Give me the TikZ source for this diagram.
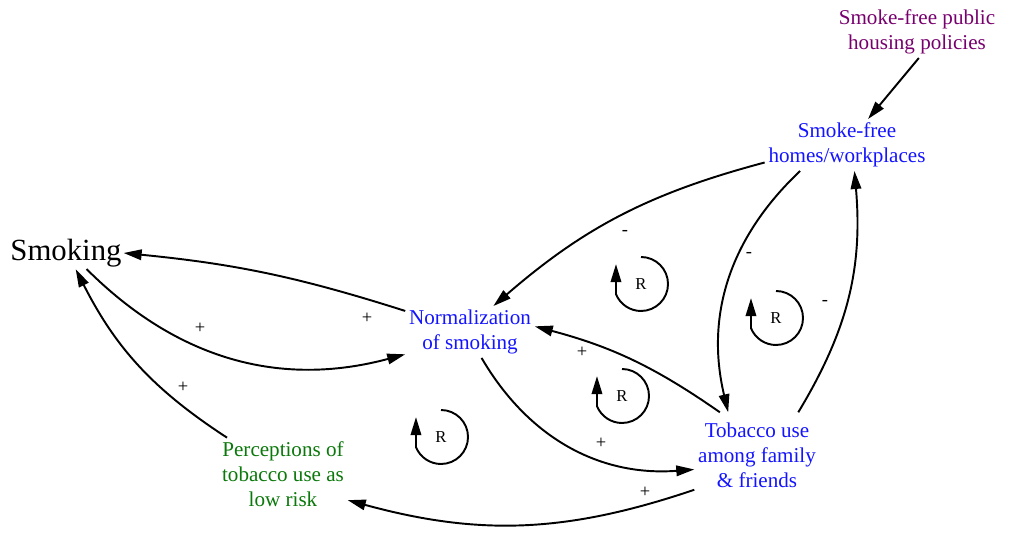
\documentclass[tikz,border=0pt]{standalone}
\usepackage{fontspec}
\setmainfont{Liberation Serif}
\usepackage{xcolor}
\usepackage{tikz}
\usetikzlibrary{arrows.meta}
\definecolor{varblue}{RGB}{20,20,255}
\definecolor{vargreen}{RGB}{10,120,10}
\definecolor{varpurple}{RGB}{120,0,110}
\tikzset{
  var/.style={align=center,inner sep=2pt,font=\fontsize{12}{14.2}\selectfont,text=varblue},
  link/.style={-{Triangle[length=3.6mm,width=2.1mm]},line width=1.1pt},
  pol/.style={font=\fontsize{10.5}{12}\selectfont,inner sep=0pt},
  rmark/.style={font=\fontsize{9.5}{11}\selectfont,inner sep=0pt},
  rloop/.style={-{Triangle[length=3.6mm,width=2.1mm]},line width=1.1pt}
}

\begin{document}
\begin{tikzpicture}
\useasboundingbox (0,0) rectangle (20.42,10.66);
% variables
\node[inner sep=1pt,font=\fontsize{17.5}{20}\selectfont] (smoking) at (1.32,5.6) {Smoking};
\node[var] (norm) at (9.4,4.02) {Normalization\\of smoking};
\node[var,text=vargreen] (perc) at (5.66,1.18) {Perceptions of\\tobacco use as\\low risk};
\node[var,inner ysep=0.2cm] (tob) at (15.14,1.56) {Tobacco use\\among family\\\& friends};
\node[var] (homes) at (16.94,7.76) {Smoke-free\\homes/workplaces};
\node[var,text=varpurple] (policy) at (18.34,10.02) {Smoke-free public\\housing policies};

% links
\draw[link](norm.162) to[bend right=6] (smoking.east);
\draw[link](smoking.-38) to[bend right=30] (norm.199);
\draw[link](perc.147) to[bend left=15] (smoking.-59);
\draw[link](tob.209) to[bend left=17] (perc.-22);
\draw[link](norm.-66) to[bend right=32] (tob.193);
\draw[link](tob.131) to[bend right=10] (norm.5);
\draw[link](homes.192) to[bend right=13] (norm.48);
\draw[link](homes.209) to[bend right=30] (tob.124);
\draw[link](tob.46) to[bend right=18] (homes.-74);
\draw[link](policy.-86) -- (homes.51);

% polarities
\node[pol] (p1) at (4.0,4.1) {+};
\node[pol] (p2) at (7.34,4.3) {+};
\node[pol] (p3) at (3.66,2.92) {+};
\node[pol] (p4) at (12.9,0.82) {+};
\node[pol] (p5) at (12.02,1.8) {+};
\node[pol] (p6) at (11.64,3.62) {+};
\node[pol] (m1) at (12.5,6.0) {-};
\node[pol] (m2) at (14.98,5.56) {-};
\node[pol] (m3) at (16.5,4.6) {-};

% reinforcing loops
\node[rmark] (r1) at (12.82,4.98) {R};
\node[rmark] (r2) at (15.52,4.3) {R};
\node[rmark] (r3) at (12.44,2.74) {R};
\node[rmark] (r4) at (8.82,1.92) {R};
\draw[rloop](r1.center) ++(90:0.54) arc (90:-158:0.54) -- ++(0,0.6);
\draw[rloop](r2.center) ++(90:0.54) arc (90:-158:0.54) -- ++(0,0.6);
\draw[rloop](r3.center) ++(90:0.54) arc (90:-158:0.54) -- ++(0,0.6);
\draw[rloop](r4.center) ++(90:0.54) arc (90:-158:0.54) -- ++(0,0.6);
\end{tikzpicture}
\end{document}
